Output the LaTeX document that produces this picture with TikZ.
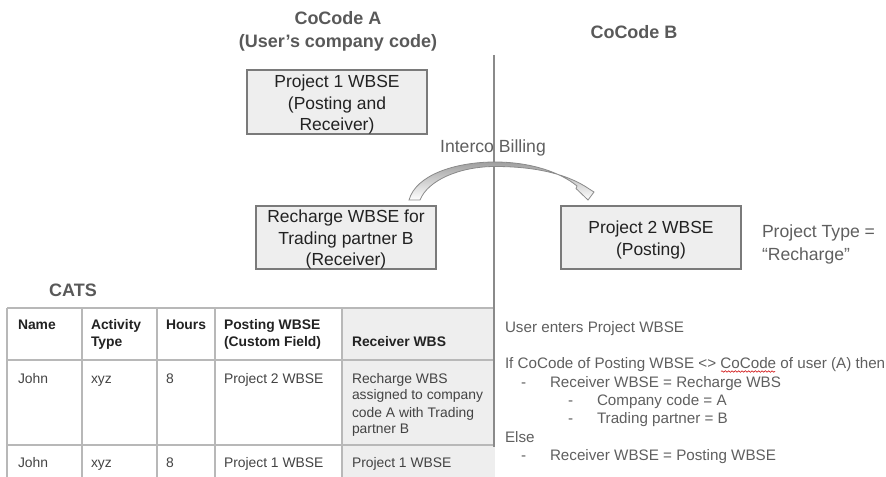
\documentclass[tikz,border=0pt]{standalone}
\usepackage{fontspec}
\setmainfont{Liberation Sans}
\usetikzlibrary{decorations.pathmorphing}
\definecolor{titlegray}{HTML}{595959}
\definecolor{boxfill}{HTML}{EEEEEE}
\definecolor{boxline}{HTML}{7A7A7A}
\definecolor{txtdark}{HTML}{222222}
\definecolor{txtgray}{HTML}{5F5F5F}
\definecolor{gridgray}{HTML}{B8B8B8}
\definecolor{divgray}{HTML}{8A8A8A}
\begin{document}
\begin{tikzpicture}[x=0.75pt,y=-0.75pt,
  every node/.style={inner sep=0pt, outer sep=0pt},
  title/.style={text=titlegray, font=\fontsize{13.5}{17}\selectfont\bfseries, align=center},
  wbox/.style={draw=boxline, line width=0.9pt, fill=boxfill},
  wtext/.style={text=txtdark, align=center, font=\fontsize{13.1}{15.9}\selectfont},
  note/.style={text=txtgray, font=\fontsize{13.2}{17.25}\selectfont, align=left},
  tcell/.style={anchor=base west, text=txtdark!85!white, font=\fontsize{10.4}{12.75}\selectfont},
  thead/.style={tcell, font=\fontsize{10.4}{12.75}\selectfont\bfseries, text=txtdark},
  rtext/.style={anchor=base west, text=txtgray, font=\fontsize{11.4}{13.5}\selectfont},
  grid/.style={draw=gridgray, line width=1.1pt}
]
\useasboundingbox (0,0) rectangle (886,477);

% titles
\node[title] (tA) at (338,31.5) {CoCode A\\(User’s company code)};
\node[title] (tB) at (634,32) {CoCode B};
\node[title, anchor=center] (tCATS) at (73,290) {CATS};

% table
\fill[boxfill] (342,308) rectangle (495,477);
\draw[grid] (7,308) -- (495,308);
\draw[grid] (7,360) -- (495,360);
\draw[grid] (7,445) -- (495,445);
\draw[grid] (7,308) -- (7,477);
\draw[grid] (82,308) -- (82,477);
\draw[grid] (157,308) -- (157,477);
\draw[grid] (215,308) -- (215,477);
\draw[grid] (342,308) -- (342,477);

% divider line
\coordinate (d1) at (494,55);
\coordinate (d2) at (494,447);
\draw[divgray, line width=1.1pt] (d1) -- (d2);

\node[thead] (h1) at (18,330) {Name};
\node[thead] (h2a) at (91,330) {Activity};
\node[thead] (h2b) at (91,347) {Type};
\node[thead] (h3) at (166,330) {Hours};
\node[thead] (h4a) at (224,330) {Posting WBSE};
\node[thead] (h4b) at (224,347) {(Custom Field)};
\node[thead] (h5) at (352,347) {Receiver WBS};

\node[tcell] (r1a) at (18,383) {John};
\node[tcell] (r1b) at (91,383) {xyz};
\node[tcell] (r1c) at (166,383) {8};
\node[tcell] (r1d) at (224,383) {Project 2 WBSE};
\node[tcell] (r1e1) at (352,383) {Recharge WBS};
\node[tcell] (r1e2) at (352,400) {assigned to company};
\node[tcell] (r1e3) at (352,417) {code A with Trading};
\node[tcell] (r1e4) at (352,433.5) {partner B};

\node[tcell] (r2a) at (18,468) {John};
\node[tcell] (r2b) at (91,468) {xyz};
\node[tcell] (r2c) at (166,468) {8};
\node[tcell] (r2d) at (224,468) {Project 1 WBSE};
\node[tcell] (r2e) at (352,468) {Project 1 WBSE};

% boxes
\node[wbox, minimum width=135pt, minimum height=48pt] (p1) at (337,102) {};
\node[wtext] (p1t) at (337,104.5) {Project 1 WBSE\\(Posting and\\Receiver)};
\node[wbox, minimum width=135pt, minimum height=47.25pt] (rc) at (346,237.5) {};
\node[wtext] (rct) at (346,239.5) {Recharge WBSE for\\Trading partner B\\(Receiver)};
\node[wbox, minimum width=135pt, minimum height=47.25pt] (p2) at (651,237.5) {};
\node[wtext] (p2t) at (651,240) {Project 2 WBSE\\(Posting)};

\node[note, anchor=west] (pt) at (762,244) {Project Type =\\“Recharge”};

\node[text=txtgray, font=\fontsize{13.2}{15}\selectfont] (ib) at (493,148) {Interco Billing};

% curved block arrow
\coordinate (arE) at (588,200);
\path[draw=divgray, line width=0.6pt, left color=gray!75, right color=white, shading angle=0]
  (409,200) .. controls (416,175) and (455,162) .. (495,162)
  .. controls (530,162) and (560,172) .. (577,186)
  -- (576,188.5) -- (arE) -- (594,192) -- (590,189.5)
  .. controls (565,172) and (530,166.5) .. (495,166.5)
  .. controls (460,166.5) and (428,180) .. (420,200) -- cycle;

% right text
\node[rtext] (l1) at (505,332.5) {User enters Project WBSE};
\node[rtext] (l2) at (505,368.5) {If CoCode of Posting WBSE <> CoCode of user (A) then};
\node[rtext] (l3d) at (521,387.5) {-};
\node[rtext] (l3) at (550,387.5) {Receiver WBSE = Recharge WBS};
\node[rtext] (l4d) at (568,405.5) {-};
\node[rtext] (l4) at (597,405.5) {Company code = A};
\node[rtext] (l5d) at (568,423.5) {-};
\node[rtext] (l5) at (597,423.5) {Trading partner = B};
\node[rtext] (l6) at (505,442.5) {Else};
\node[rtext] (l7d) at (521,460.5) {-};
\node[rtext] (l7) at (550,460.5) {Receiver WBSE = Posting WBSE};

\coordinate (sq1) at (721,371.5);
\coordinate (sq2) at (775,371.5);
\draw[red!80!black, line width=0.4pt, decorate, decoration={snake, segment length=2.5pt, amplitude=0.6pt}] (sq1) -- (sq2);
\end{tikzpicture}
\end{document}
